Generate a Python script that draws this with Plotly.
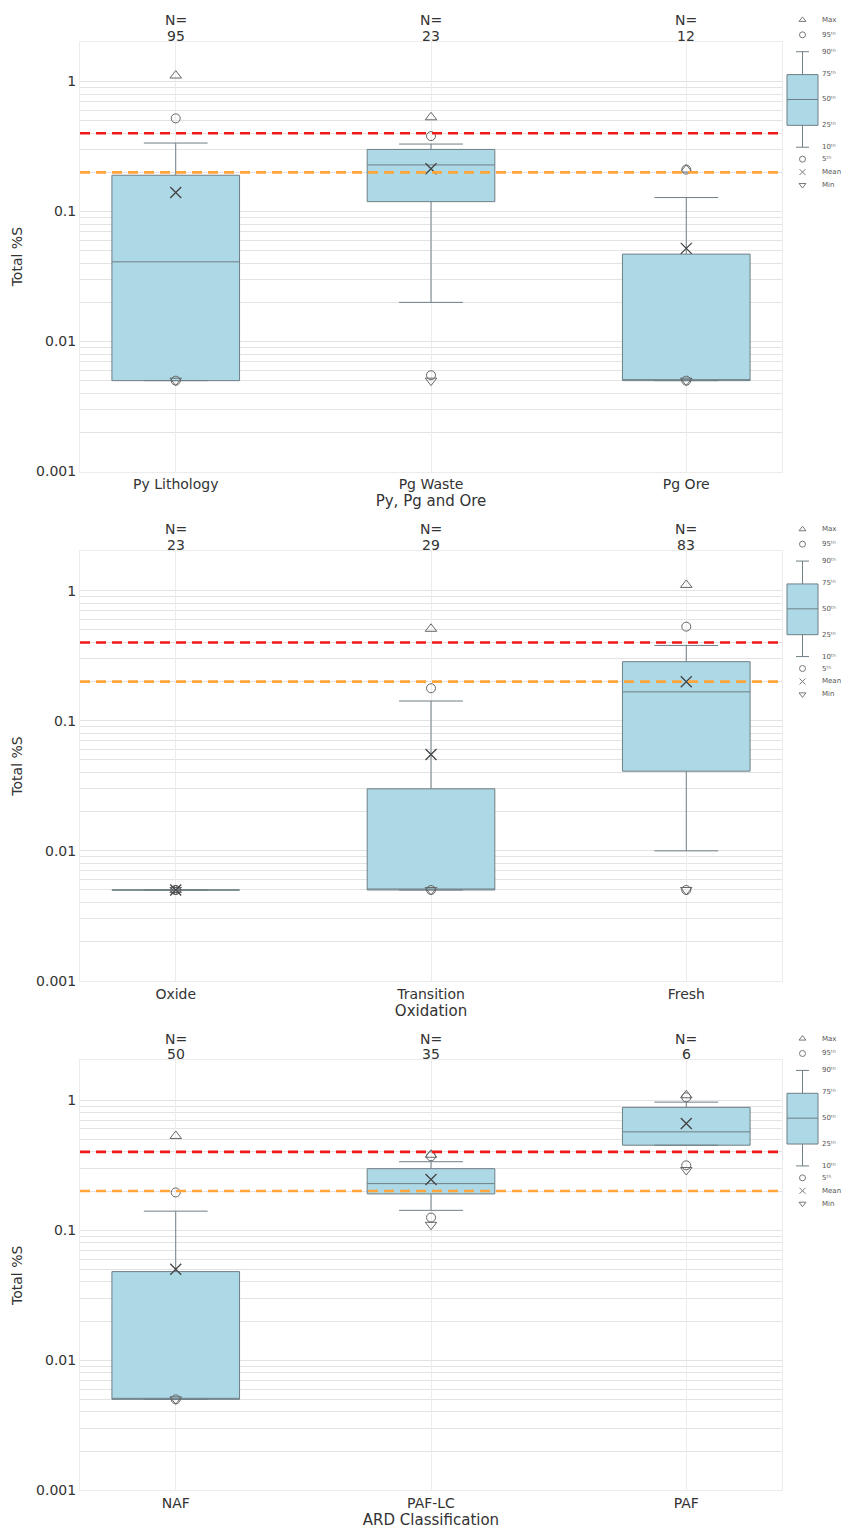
import numpy as np
import plotly.graph_objects as go

W, H = 848, 1540
FONT = "DejaVu Sans"
TXT = "#333333"

# ---------------- data ----------------
panel_titles = ["Py, Pg and Ore", "Oxidation", "ARD Classification"]
categories = [
    ["Py Lithology", "Pg Waste", "Pg Ore"],
    ["Oxide", "Transition", "Fresh"],
    ["NAF", "PAF-LC", "PAF"],
]
n_counts = [[95, 23, 12], [23, 29, 83], [50, 35, 6]]

p_min = [[0.005, 0.005, 0.005], [0.005, 0.005, 0.005], [0.005, 0.11, 0.29]]
p05 = [[0.005, 0.0055, 0.005], [0.005, 0.005, 0.005], [0.005, 0.125, 0.315]]
p10 = [[0.005, 0.020, 0.005], [0.005, 0.005, 0.010], [0.005, 0.142, 0.45]]
p25 = [[0.005, 0.119, 0.005], [0.005, 0.005, 0.041], [0.005, 0.19, 0.45]]
p50 = [[0.041, 0.228, 0.005], [0.005, 0.005, 0.167], [0.005, 0.228, 0.57]]
p75 = [[0.19, 0.30, 0.047], [0.005, 0.030, 0.285], [0.048, 0.297, 0.88]]
p90 = [[0.336, 0.33, 0.128], [0.005, 0.142, 0.38], [0.14, 0.336, 0.965]]
p95 = [[0.52, 0.38, 0.21], [0.005, 0.178, 0.53], [0.195, 0.37, 1.05]]
p_max = [[1.11, 0.53, 0.21], [0.005, 0.51, 1.11], [0.53, 0.38, 1.09]]
means = [[0.14, 0.213, 0.052], [0.005, 0.055, 0.20], [0.05, 0.245, 0.66]]

threshold_red = 0.4
threshold_orange = 0.2

y_tick_vals = [0.001, 0.01, 0.1, 1]
y_tick_text = ["0.001", "0.01", "0.1", "1"]

legend_labels = ["Max", "95ᵗʰ", "90ᵗʰ", "75ᵗʰ", "50ᵗʰ", "25ᵗʰ", "10ᵗʰ",
                 "5ᵗʰ", "Mean", "Min"]

# ---------------- layout geometry (pixels) ----------------
PLOT_L, PLOT_R = 80, 782
PANEL_TOP0, PANEL_H, PANEL_STEP = 42, 432, 512
LEG_L, LEG_R, LEG_T, LEG_B = 784, 848, 5, 192

minor_vals = [m * 10.0 ** e for e in range(-3, 1) for m in range(2, 10)]

fig = go.Figure()
layout = dict(
    width=W, height=H,
    margin=dict(l=0, r=0, t=0, b=0),
    paper_bgcolor="white", plot_bgcolor="white",
    showlegend=False,
    font=dict(family=FONT, color=TXT, size=14),
    shapes=[], annotations=[],
)

GRID = "#e3e3e3"
MK = "#666666"

for k in range(3):
    i = k + 1
    sfx = "" if i == 1 else str(i)
    xa, ya = "x" + sfx, "y" + sfx
    top = PANEL_TOP0 + k * PANEL_STEP
    bot = top + PANEL_H
    cats = categories[k]

    layout["xaxis" + sfx] = dict(
        domain=[PLOT_L / W, PLOT_R / W], anchor=ya,
        type="category", categoryorder="array", categoryarray=cats,
        range=[-0.375, 2.375],
        showgrid=True, gridcolor="#ececec", gridwidth=1,
        showline=True, mirror=True, linecolor="#ececec",
        ticks="", tickfont=dict(size=14, color=TXT),
        title=dict(text=panel_titles[k], font=dict(size=15, color=TXT), standoff=1),
        zeroline=False, fixedrange=True,
    )
    layout["yaxis" + sfx] = dict(
        domain=[1 - bot / H, 1 - top / H], anchor=xa,
        type="log", range=[-3, 0.305],
        tickmode="array", tickvals=y_tick_vals, ticktext=y_tick_text,
        showgrid=True, gridcolor=GRID, gridwidth=1,
        minor=dict(tickmode="array", tickvals=minor_vals, showgrid=True,
                   gridcolor=GRID, gridwidth=1, ticks=""),
        showline=True, mirror=True, linecolor="#ececec",
        ticks="", tickfont=dict(size=14, color=TXT),
        title=dict(text="Total %S", font=dict(size=14, color=TXT), standoff=10),
        zeroline=False, fixedrange=True,
    )

    fig.add_trace(go.Box(
        x=cats, q1=p25[k], median=p50[k], q3=p75[k],
        lowerfence=p10[k], upperfence=p90[k],
        width=0.5, whiskerwidth=0.5, boxpoints=False,
        fillcolor="#add8e6", line=dict(color="#6f7f86", width=1),
        xaxis=xa, yaxis=ya, hoverinfo="skip",
    ))

    def mk(vals, symbol, size, lw=1.0, color=MK):
        fig.add_trace(go.Scatter(
            x=cats, y=vals, mode="markers", xaxis=xa, yaxis=ya,
            marker=dict(symbol=symbol, size=size, color=color,
                        line=dict(color=color, width=lw)),
            hoverinfo="skip",
        ))

    mk(p_max[k], "triangle-up-open", 10)
    mk(p95[k], "circle-open", 9)
    mk(p05[k], "circle-open", 9)
    mk(p_min[k], "triangle-down-open", 10)
    mk(means[k], "x-thin-open", 11, lw=1.3, color="#444444")

    for val, col in [(threshold_red, "#f01818"), (threshold_orange, "#ffa53a")]:
        layout["shapes"].append(dict(
            type="line", xref=xa + " domain", yref=ya,
            x0=0, x1=1, y0=val, y1=val,
            line=dict(color=col, width=2.6, dash="10px,6px"),
        ))

    for j, c in enumerate(cats):
        for txt, dy in [("N=", 22), (str(n_counts[k][j]), 6)]:
            layout["annotations"].append(dict(
                x=c, xref=xa, y=1 - (top - dy) / H, yref="paper",
                text=txt, showarrow=False,
                font=dict(size=14, color=TXT), yanchor="middle", align="center",
            ))

    # ---- legend key (pixel-unit hidden axes) ----
    li = 4 + k
    lxa, lya = f"x{li}", f"y{li}"
    lt, lb = top - 37 + LEG_T, top - 37 + LEG_B
    hidden = dict(visible=False, showticklabels=False, showgrid=False, ticks="",
                  zeroline=False, showline=False, fixedrange=True)
    layout[f"xaxis{li}"] = dict(domain=[LEG_L / W, LEG_R / W], anchor=lya,
                                range=[LEG_L, LEG_R], **hidden)
    layout[f"yaxis{li}"] = dict(domain=[1 - lb / H, 1 - lt / H], anchor=lxa,
                                range=[LEG_B, LEG_T], **hidden)
    cx = 802.5
    kc = "#777777"
    layout["shapes"] += [
        dict(type="rect", xref=lxa, yref=lya, x0=787, x1=818, y0=70, y1=121,
             fillcolor="#add8e6", line=dict(color="#6f7f86", width=1)),
        dict(type="line", xref=lxa, yref=lya, x0=787, x1=818, y0=95, y1=95,
             line=dict(color="#6f7f86", width=1)),
        dict(type="line", xref=lxa, yref=lya, x0=cx, x1=cx, y0=47, y1=70,
             line=dict(color="#6f7f86", width=1)),
        dict(type="line", xref=lxa, yref=lya, x0=cx, x1=cx, y0=121, y1=143,
             line=dict(color="#6f7f86", width=1)),
        dict(type="line", xref=lxa, yref=lya, x0=796, x1=809, y0=47, y1=47,
             line=dict(color="#6f7f86", width=1)),
        dict(type="line", xref=lxa, yref=lya, x0=796, x1=809, y0=143, y1=143,
             line=dict(color="#6f7f86", width=1)),
    ]
    key_y = [15, 30, 168, 155, 181]
    key_sym = ["triangle-up-open", "circle-open", "x-thin-open", "circle-open", "triangle-down-open"]
    fig.add_trace(go.Scatter(
        x=[cx] * 5, y=key_y, mode="markers", xaxis=lxa, yaxis=lya,
        marker=dict(symbol=key_sym, size=6, color=kc, line=dict(color=kc, width=1)),
        hoverinfo="skip",
    ))
    label_y = [15, 30, 47, 69, 95, 121, 143, 155, 168, 181]
    for lab, ly in zip(legend_labels, label_y):
        layout["annotations"].append(dict(
            x=820, y=ly, xref=lxa, yref=lya, text=lab, showarrow=False,
            xanchor="left", yanchor="middle",
            font=dict(family="DejaVu Sans", size=7, color="#555555"),
        ))

fig.update_layout(**layout)
fig.write_html(
    "out.html",
    config={"displayModeBar": False},
    post_script="document.body.style.margin='0';",
)
